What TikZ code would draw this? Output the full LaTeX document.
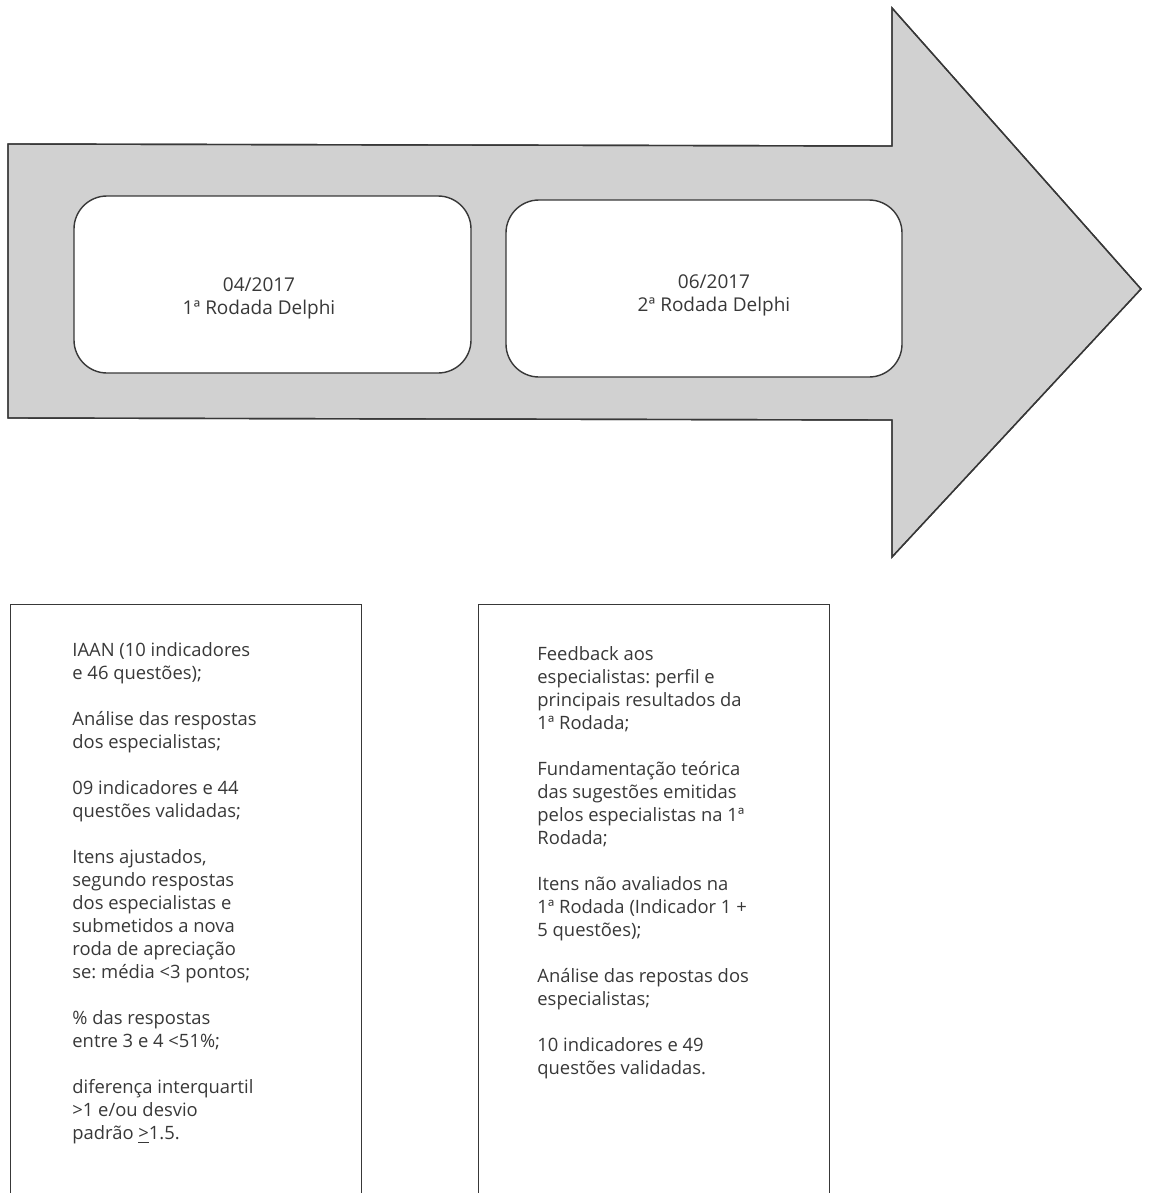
\documentclass[tikz,border=0pt]{standalone}
\usepackage{fontspec}
\setmainfont{Open Sans}
\usepackage{xcolor}
\frenchspacing
\def\bigarrow{(8,144) -- (892,146) -- (892,8) -- (1141,289) -- (892,557) -- (892,420) -- (8,418) -- cycle}
\def\listfont{\fontsize{9.2}{11.5}\selectfont\lineskiplimit=-20pt\relax}
\colorlet{arrow area}{black!18}
\colorlet{box edge}{black!78}
\colorlet{box text}{black!78}
\tikzset{arrowshape/.style={fill=arrow area, draw=box edge, line width=0.7pt},
    round box/.style={draw=box edge, fill=white, line width=0.7pt, rounded corners=16.5pt,
        minimum width=198.5pt, minimum height=88.5pt, inner sep=0pt},
    date text/.style={align=center, text=box text, inner sep=0pt,
        font=\fontsize{9.5}{11.5}\selectfont},
    list box/.style={draw=box edge, line width=0.7pt, anchor=north west, inner sep=0pt,
        minimum width=175.5pt, minimum height=320pt},
    list text/.style={align=left, anchor=north west, text=box text, inner sep=0pt,
        font=\listfont}}

\begin{document}
\begin{tikzpicture}[x=0.5pt, y=-0.5pt]
    \useasboundingbox (0,0) rectangle (1148,1193);
    \fill[arrowshape] \bigarrow;
    \draw[arrowshape, fill=none] \bigarrow;
    \node[round box] (round1) at (272.5,284.5) {};
    \node[round box, minimum width=198pt] (round2) at (704,288.5) {};
    \node[date text] (date1) at (259,298) {04/2017\\1ª Rodada Delphi};
    \node[date text] (date2) at (714,295) {06/2017\\2ª Rodada Delphi};
    \node[list box] (list1) at (10,604) {};
    \node[list box] (list2) at (478,604) {};
    \node[list text] (items1) at (72,642) {IAAN (10 indicadores\\
        e 46 questões);\\[11.5pt]
        Análise das respostas\\
        dos especialistas;\\[11.5pt]
        09 indicadores e 44\\
        questões validadas;\\[11.5pt]
        Itens ajustados,\\
        segundo respostas\\
        dos especialistas e\\
        submetidos a nova\\
        roda de apreciação\\
        se: média <3 pontos;\\[11.5pt]
        \% das respostas\\
        entre 3 e 4 <51\%;\\[11.5pt]
        diferença interquartil\\
        >1 e/ou desvio\\
        padrão \underline{>}1.5.};
    \node[list text] (items2) at (537,646) {Feedback aos\\
        especialistas: perfil e\\
        principais resultados da\\
        1ª Rodada;\\[11.5pt]
        Fundamentação teórica\\
        das sugestões emitidas\\
        pelos especialistas na 1ª\\
        Rodada;\\[11.5pt]
        Itens não avaliados na\\
        1ª Rodada (Indicador 1 +\\
        5 questões);\\[11.5pt]
        Análise das repostas dos\\
        especialistas;\\[11.5pt]
        10 indicadores e 49\\
        questões validadas.};
\end{tikzpicture}
\end{document}
